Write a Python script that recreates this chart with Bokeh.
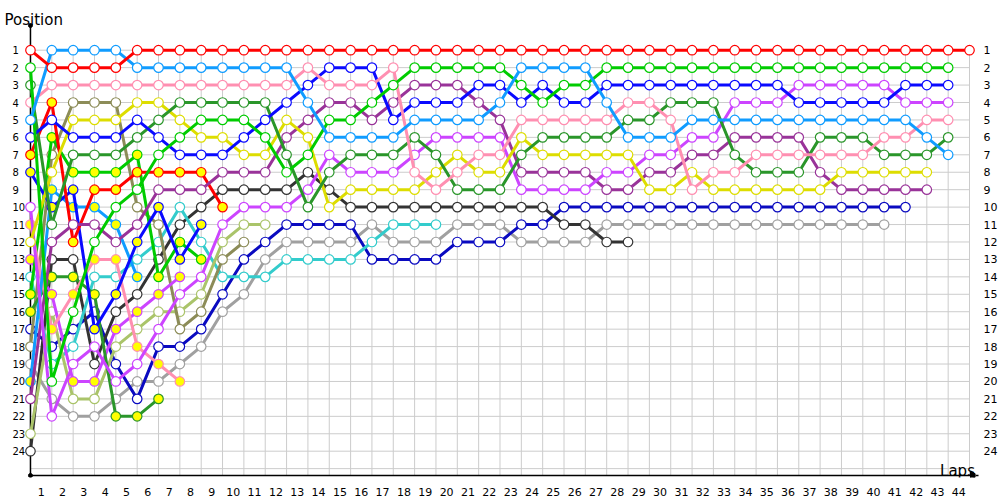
from bokeh.plotting import figure
from bokeh.models import Range1d, FixedTicker, Arrow, NormalHead, CustomJSTickFormatter
from bokeh.embed import file_html
from bokeh.resources import INLINE
from bokeh.core.properties import value

laps = list(range(0, 45))
positions = list(range(1, 25))
lap_labels = [str(i) for i in range(1, 45)]
pos_labels = [str(i) for i in positions]

R1 = [1, 2, 2, 2, 2] + [1] * 40
R2 = [7, 4, 12, 9, 9, 8, 8, 8, 8, 10]
LB1 = [5, 1, 1, 1, 1, 2, 2, 2, 2, 2, 2, 2, 2, 4, 6, 6, 6, 6, 5, 5, 5, 5, 4, 2, 2, 2, 2, 4, 6, 6, 6, 5, 5, 5, 5, 5, 5, 5, 5, 5, 5, 5, 6, 7]
LB2 = [20, 9, 10, 10, 11, 14]
PK1 = [4, 3, 3, 3, 3, 3, 3, 3, 3, 3, 3, 3, 3, 2, 3, 3, 3, 2, 8, 9, 8, 7, 7, 5, 5, 5, 5, 5, 4, 4, 5, 9, 8, 8, 7, 7, 7, 7, 7, 7, 6, 6, 5, 5]
PK2 = [11, 17, 15, 13, 13, 18, 19, 20]
G1 = [2, 20, 16, 12, 10, 9, 7, 6, 5, 5, 5, 6, 8, 7, 5, 5, 4, 3, 2, 2, 2, 2, 2, 3, 4, 3, 3] + [2] * 17
G2 = [15, 6, 8, 8, 8, 7, 14, 12, 13]
DG1 = [3, 11, 7, 7, 7, 6, 5, 4, 4, 4, 4, 4, 7, 10, 8, 7, 7, 7, 6, 7, 9, 9, 9, 7, 6, 6, 6, 6, 5, 5, 4, 4, 4, 7, 8, 8, 8, 6, 6, 6, 7, 7, 7, 6]
DG2 = [16, 14, 14, 15, 22, 22, 21]
B1 = [6, 5, 6, 6, 6, 5, 6, 7, 7, 7, 6, 5, 4, 3, 2, 2, 2, 5, 4, 4, 4, 3, 3, 4, 3, 4, 4, 3, 3, 3, 3, 3, 3, 3, 3, 3, 4, 4, 4, 4, 4, 3, 3, 3]
B2 = [8, 10, 9, 17, 15, 12, 10, 13, 11]
Y1 = [12, 8, 5, 5, 5, 4, 4, 5, 6, 6, 7, 7, 5, 6, 10, 9, 9, 9, 9, 8, 7, 8, 8, 6, 7, 7, 7, 7, 7, 9, 9, 8, 9, 9, 9, 9, 9, 9, 8, 8, 8, 8, 8]
PU1 = [21, 12, 11, 11, 12, 11, 9, 9, 9, 8, 8, 8, 6, 5, 4, 4, 5, 4, 3, 3, 3, 4, 5, 8, 8, 8, 8, 9, 9, 8, 8, 7, 7, 6, 6, 6, 6, 8, 9, 9, 9, 9, 9]
M1 = [10, 22, 19, 18, 20, 19, 17, 15, 14, 11, 10, 10, 10, 9, 7, 8, 8, 8, 7, 6, 6, 6, 6, 9, 9, 9, 9, 8, 8, 7, 7, 6, 6, 4, 4, 4, 3, 3, 3, 3, 3, 4, 4, 4]
M2 = [13, 15, 20, 20, 17, 16, 15, 14]
DGR = [24, 13, 13, 19, 16, 15, 13, 11, 10, 9, 9, 9, 9, 8, 9, 10, 10, 10, 10, 10, 10, 10, 10, 10, 10, 11, 11, 12, 12]
DB = [17, 18, 17, 16, 19, 21, 18, 18, 17, 15, 13, 12, 11, 11, 11, 11, 13, 13, 13, 13, 12, 12, 12, 11, 11] + [10] * 17
GR = [19, 21, 22, 22, 21, 20, 20, 19, 18, 16, 15, 13, 12, 12, 12, 12, 11, 12, 12, 12, 11, 11, 11, 12, 12, 12, 12] + [11] * 14
CY = [14, 19, 18, 14, 14, 13, 12, 10, 12, 14, 14, 14, 13, 13, 13, 13, 12, 11, 11, 11]
LO = [23, 16, 21, 21, 18, 17, 16, 16, 15, 12, 11, 11]
OL = [18, 7, 4, 4, 4, 10, 11, 17, 16, 13, 12]

# (series, line colour, marker fill)
drivers = [
    (GR, "#a0a0a0", "white"),
    (DB, "#0a0ac0", "white"),
    (DGR, "#333333", "white"),
    (CY, "#33cccc", "white"),
    (LO, "#aac46a", "white"),
    (OL, "#8c8c58", "white"),
    (M2, "#cc44ff", "#ffff00"),
    (DG2, "#2a962a", "#ffff00"),
    (G2, "#00cc00", "#ffff00"),
    (PK2, "#ff8fb1", "#ffff00"),
    (LB2, "#109cff", "#ffff00"),
    (B2, "#0a0aff", "#ffff00"),
    (R2, "#ff0000", "#ffff00"),
    (PU1, "#993399", "white"),
    (M1, "#cc44ff", "white"),
    (Y1, "#dddd00", "white"),
    (DG1, "#2a962a", "white"),
    (B1, "#0a0aff", "white"),
    (PK1, "#ff8fb1", "white"),
    (G1, "#00cc00", "white"),
    (LB1, "#109cff", "white"),
    (R1, "#ff0000", "white"),
]

PX_LAP = 940 / 44
PX_POS = 401 / 23
def lx(px):
    return (px - 30) / PX_LAP
def py(pix):
    return 1 + (pix - 49.7) / PX_POS

x0 = lx(0)
x1 = lx(976)
ytop = py(0)
ybot = py(477)
yaxis_pos = py(475)

p = figure(width=1000, height=500, output_backend="svg", toolbar_location=None,
           x_range=Range1d(x0, x1), y_range=Range1d(ybot, ytop),
           x_axis_location="below", y_axis_location="right",
           min_border_left=0, min_border_top=0, min_border_right=24, min_border_bottom=23)
p.outline_line_color = None
p.xgrid.grid_line_color = None
p.ygrid.grid_line_color = None

# grid
grid_col = "#cccccc"
p.segment(x0=laps[1:], y0=[0.85] * 44, x1=laps[1:], y1=[yaxis_pos] * 44, line_color=grid_col, line_width=1)
hpos = positions + [25]
p.segment(x0=[0] * len(hpos), y0=hpos, x1=[44] * len(hpos), y1=hpos, line_color=grid_col, line_width=1)

# axes lines
p.segment(x0=[0], y0=[py(25)], x1=[0], y1=[yaxis_pos], line_color="black", line_width=1.5)
p.add_layout(Arrow(end=NormalHead(size=8, fill_color="black", line_color="black"),
                   x_start=0, y_start=yaxis_pos, x_end=lx(979), y_end=yaxis_pos,
                   line_color="black", line_width=1.5))
p.scatter(x=[0, 0], y=[py(25), yaxis_pos], size=4, color="black")

for series, col, fill in drivers:
    xs = laps[:len(series)]
    p.line(xs, series, line_color=col, line_width=3)
    p.scatter(xs, series, size=9.5, fill_color=fill, line_color=col, line_width=1.2)

# x axis labels
p.xaxis.ticker = FixedTicker(ticks=[i + 0.5 for i in range(44)])
p.xaxis.formatter = CustomJSTickFormatter(args=dict(labels=lap_labels), code="return labels[Math.round(tick - 0.5)];")
for ax in (p.xaxis[0], p.yaxis[0]):
    ax.axis_line_color = None
    ax.major_tick_line_color = None
    ax.minor_tick_line_color = None
    ax.major_label_text_font = "DejaVu Sans"
    ax.major_label_text_font_size = "11px"
    ax.major_label_text_color = "black"
p.xaxis.major_label_standoff = 4
p.yaxis.ticker = FixedTicker(ticks=positions)
p.yaxis.major_label_standoff = 2

# left labels
p.text(x=[lx(12)] * 24, y=positions, text=pos_labels, text_align="left", text_baseline="middle",
       text_font=value("DejaVu Sans"), text_font_size="10px", text_color="black")

p.text(x=[lx(4)], y=[py(19)], text=["Position"], text_align="left",
       text_baseline="alphabetic", text_font=value("DejaVu Sans"), text_font_size="15px", text_color="black")
p.text(x=[lx(958)], y=[py(470)], text=["Laps"], text_align="center",
       text_baseline="alphabetic", text_font=value("DejaVu Sans"), text_font_size="15px", text_color="black")

open("out.html", "w").write(file_html(p, INLINE))
